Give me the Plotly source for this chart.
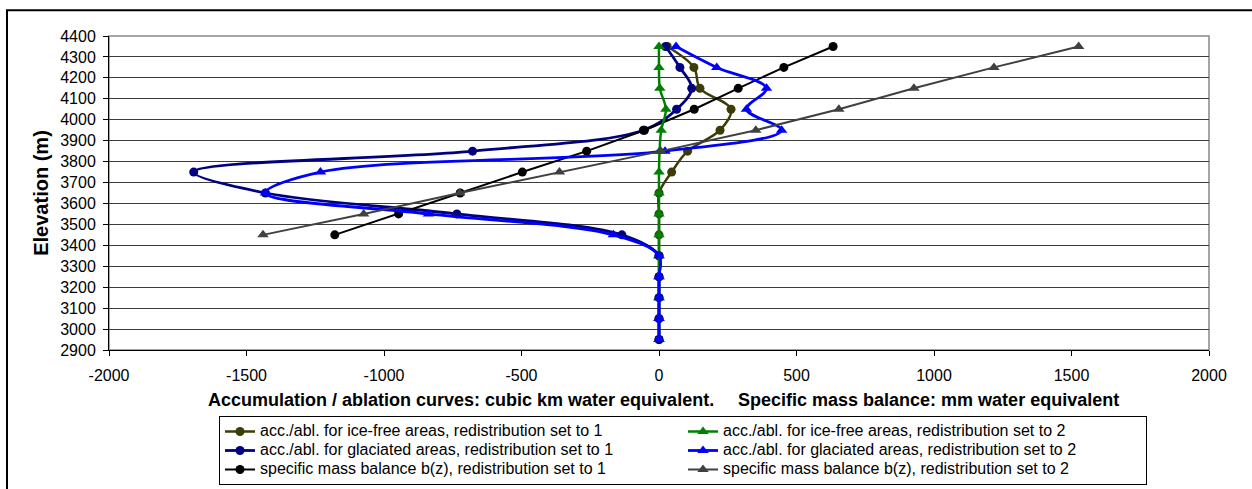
import plotly.graph_objects as go

# Elevation bands (m) and curves per band
elevation = [2950, 3050, 3150, 3250, 3350, 3450, 3550, 3650, 3750, 3850,
             3950, 4050, 4150, 4250, 4350]

ice_free_r1 = [0, 0, 0, 0, 0, 0, 0, 0, 46, 104, 222, 262, 149, 127, 30]
glaciated_r1 = [0, 0, 0, 0, 0, -135, -735, -1431, -1692, -678, -57, 64, 119, 76, 24]
bz_r1 = [None, None, None, None, None, -1179, -947, -723, -497, -263, -53, 128, 288, 454, 633]
ice_free_r2 = [0, 0, 0, 0, 0, 0, 0, 0, 0, 2, 8, 25, 3, 0, 0]
glaciated_r2 = [0, 0, 0, 0, 0, -166, -838, -1431, -1231, 22, 446, 318, 391, 210, 62]
bz_r2 = [None, None, None, None, None, -1440, -1074, -725, -362, 7, 352, 654, 927, 1218, 1526]

names = [
    "acc./abl. for ice-free areas, redistribution set to 1",
    "acc./abl. for glaciated areas, redistribution set to 1",
    "specific mass balance b(z), redistribution set to 1",
    "acc./abl. for ice-free areas, redistribution set to 2",
    "acc./abl. for glaciated areas, redistribution set to 2",
    "specific mass balance b(z), redistribution set to 2",
]

x_ticks = [-2000, -1500, -1000, -500, 0, 500, 1000, 1500, 2000]
x_tick_labels = ["-2000", "-1500", "-1000", "-500", "0", "500", "1000", "1500", "2000"]
y_ticks = list(range(2900, 4401, 100))

NARROW = "Liberation Sans Narrow, Arial Narrow, sans-serif"

fig = go.Figure()

# (values, colour, marker, marker size, smoothed, line width, legend rank)
series = [
    (ice_free_r1, "#3c3c08", "circle", 9, True, 2.5, 1),
    (glaciated_r1, "#000080", "circle", 9, True, 2.8, 3),
    (bz_r1, "#000000", "circle", 9, False, 2, 5),
    (ice_free_r2, "#008000", "triangle-up", 10, True, 2.5, 2),
    (glaciated_r2, "#0000ff", "triangle-up", 10, True, 2.8, 4),
    (bz_r2, "#404040", "triangle-up", 10, False, 2, 6),
]

for name, (vals, col, sym, msize, smooth, lw, rank) in zip(names, series):
    line = dict(color=col, width=lw)
    if smooth:
        line.update(shape="spline", smoothing=1)
    fig.add_trace(go.Scatter(
        x=vals, y=elevation, mode="lines+markers",
        name='<span style="font-size:16px">' + name + "</span>",
        line=line,
        marker=dict(symbol=sym, size=msize, color=col),
        legendrank=rank,
    ))

fig.update_layout(
    width=1252, height=489,
    margin=dict(l=109, r=43, t=36, b=139),
    paper_bgcolor="white", plot_bgcolor="white",
    font=dict(family="Liberation Sans, Arial, sans-serif", size=16, color="black"),
    showlegend=True,
    legend=dict(
        orientation="h",
        x=219 / 1252, xref="container", xanchor="left",
        y=1 - 416 / 489, yref="container", yanchor="top",
        entrywidth=418, entrywidthmode="pixels",
        bordercolor="black", borderwidth=1, bgcolor="white",
        font=dict(family=NARROW, size=12),
        itemwidth=30,
    ),
    xaxis=dict(
        range=[-2000, 2000], tickvals=x_ticks, ticktext=x_tick_labels,
        showgrid=False, zeroline=False,
        showline=True, linecolor="black", linewidth=1,
        ticks="outside", ticklen=5, tickcolor="black",
        ticklabelstandoff=6,
        tickfont=dict(size=16),
    ),
    yaxis=dict(
        range=[2900, 4400], tickvals=y_ticks, showgrid=True,
        gridcolor="#3c3c3c", gridwidth=1, zeroline=False,
        showline=True, linecolor="black", linewidth=1,
        ticks="outside", ticklen=5, tickcolor="black",
        ticklabelstandoff=4,
        tickfont=dict(size=16),
        title=dict(text="<b>Elevation (m)</b>", font=dict(size=20), standoff=6),
    ),
)

# Plot-area frame (grey top/right edges)
fig.add_shape(type="rect", xref="paper", yref="paper", x0=0, y0=0, x1=1, y1=1,
              line=dict(color="#888888", width=1.5), layer="below")
# Outer chart frame
fig.add_shape(type="rect", xref="paper", yref="paper",
              x0=(7 - 109) / 1100, x1=(1270 - 109) / 1100,
              y0=(349.7 - 510) / 314, y1=(349.7 - 10) / 314,
              line=dict(color="black", width=2))

fig.add_annotation(
    text="<b>Accumulation / ablation curves: cubic km water equivalent.</b>",
    xref="paper", yref="paper", x=(206 - 109) / 1100, y=(349.7 - 400) / 314,
    xanchor="left", yanchor="middle", showarrow=False,
    font=dict(family=NARROW, size=18),
)
fig.add_annotation(
    text="<b>Specific mass balance: mm water equivalent</b>",
    xref="paper", yref="paper", x=(736 - 109) / 1100, y=(349.7 - 400) / 314,
    xanchor="left", yanchor="middle", showarrow=False,
    font=dict(family=NARROW, size=18),
)

fig.write_html("out.html")
